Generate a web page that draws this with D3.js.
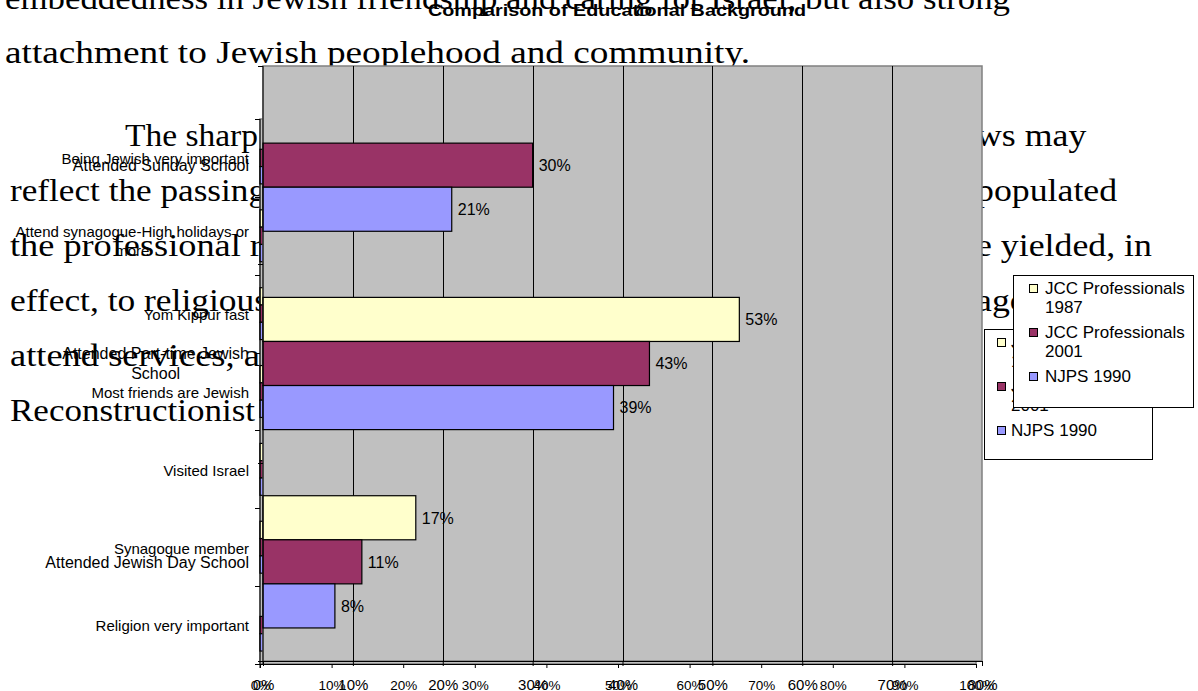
<!DOCTYPE html>
<html><head><meta charset="utf-8">
<script src="https://cdn.jsdelivr.net/npm/d3@7/dist/d3.min.js"></script>
<style>html,body{margin:0;padding:0;background:#fff;overflow:hidden}</style>
</head><body>
<svg id="chart" width="1198" height="691"></svg>
<script>
// ---------------- data ----------------
const seriesNames = ["JCC Professionals 1987", "JCC Professionals 2001", "NJPS 1990"];
const seriesColors = ["#FFFFCC", "#993366", "#9999FF"];

// Front chart: educational background
const eduTitle = "Comparison of Educational Background";
const eduCategories = ["Attended Sunday School", "Attended Part-time Jewish School", "Attended Jewish Day School"];
const edu1987 = [null, 53, 17];
const edu2001 = [30, 43, 11];
const eduNjps1990 = [21, 39, 8];
const eduTicks = [0, 10, 20, 30, 40, 50, 60, 70, 80];

// Chart underneath (mostly hidden): Jewish identity measures
const idCategories = ["Being Jewish very important", "Attend synagogue-High holidays or more", "Yom Kippur fast", "Most friends are Jewish", "Visited Israel", "Synagogue member", "Religion very important"];
const id1987 = [null, 62, 70, 52, 64, 58, null];
const id2001 = [78, 66, 74, 49, 68, 56, 38];
const idNjps1990 = [64, 59, 61, 42, 26, 41, 29];
const idTicks = [0, 10, 20, 30, 40, 50, 60, 70, 80, 90, 100];

// Document text behind the charts
const bodyLeft = ["embeddedness in Jewish friendship and caring for Israel, but also strong",
  "attachment to Jewish peoplehood and community.",
  "The sharp d", "reflect the passing", "the professional ra", "effect, to religious",
  "attend services, ar", "Reconstructionist"];
const bodyRight = [null, null, "ws may", "populated", "e yielded, in", "agogue", null, null];

// ---------------- helpers ----------------
const svg = d3.select("#chart");
const SANS = "'Liberation Sans', Arial, sans-serif";
const SERIF = "'Liberation Serif', 'Times New Roman', serif";
const measurer = svg.append("text").attr("x", -9999).attr("y", -9999);
function textWidth(str, size, family, weight) {
  measurer.attr("font-family", family).attr("font-size", size).attr("font-weight", weight || "normal").text(str);
  return measurer.node().getComputedTextLength();
}
function wrap(str, maxW, size, family) {
  const words = str.split(" "), lines = [];
  let cur = "";
  for (const w of words) {
    const t = cur ? cur + " " + w : w;
    if (cur && textWidth(t, size, family) > maxW) { lines.push(cur); cur = w; } else cur = t;
  }
  if (cur) lines.push(cur);
  return lines;
}

// ---------------- body text ----------------
const bodySize = 32;
const bodyScale = 745 / textWidth(bodyLeft[1], bodySize, SERIF);
const bodyBase = [9, 63, 146, 201, 256, 311, 366, 421];
const bodyX = [5, 5, 125, 10, 10, 10, 10, 10];
const bodyFit = [1005, 745, 158, 256, 268, 258, 262, 245];
const bodyG = svg.append("g").attr("font-family", SERIF).attr("font-size", bodySize).attr("fill", "#000");
bodyLeft.forEach((t, i) => {
  bodyG.append("text").attr("x", bodyX[i]).attr("y", bodyBase[i])
    .attr("textLength", bodyFit[i] || textWidth(t, bodySize, SERIF) * bodyScale)
    .attr("lengthAdjust", "spacingAndGlyphs").text(t);
});
bodyRight.forEach((t, i) => {
  if (!t) return;
  bodyG.append("text").attr("x", 976).attr("y", bodyBase[i])
    .attr("textLength", textWidth(t, bodySize, SERIF) * bodyScale * 0.96).attr("lengthAdjust", "spacingAndGlyphs").text(t);
});

// ---------------- generic bar chart ----------------
function drawChart(cfg) {
  const g = svg.append("g");
  const x = d3.scaleLinear().domain([0, d3.max(cfg.ticks)]).range([cfg.x0, cfg.x1]);
  const y = d3.scaleBand().domain(cfg.categories).range([cfg.y0, cfg.y1]);
  const s = d3.scaleBand().domain(seriesNames).range([y.bandwidth() / 6, y.bandwidth() * 5 / 6]);

  g.append("rect").attr("x", cfg.x0).attr("y", cfg.y0).attr("width", cfg.x1 - cfg.x0).attr("height", cfg.y1 - cfg.y0)
    .attr("fill", "#C0C0C0").attr("stroke", "#808080").attr("stroke-width", 1.5);

  if (cfg.grid) {
    g.selectAll(".grid").data(cfg.ticks.filter(t => t > 0 && t < d3.max(cfg.ticks))).join("line")
      .attr("x1", d => Math.round(x(d)) + 0.5).attr("x2", d => Math.round(x(d)) + 0.5)
      .attr("y1", cfg.y0).attr("y2", cfg.y1).attr("stroke", "#000").attr("stroke-width", 1);
  }

  const rows = [];
  cfg.categories.forEach((c, i) => cfg.values.forEach((arr, j) => {
    if (arr[i] != null) rows.push({ c, name: seriesNames[j], color: seriesColors[j], v: arr[i] });
  }));
  g.selectAll(".bar").data(rows).join("rect")
    .attr("x", x(0)).attr("y", d => y(d.c) + s(d.name))
    .attr("width", d => x(d.v) - x(0)).attr("height", s.bandwidth())
    .attr("fill", d => d.color).attr("stroke", "#000").attr("stroke-width", 1.2);

  if (cfg.dataLabels) {
    g.selectAll(".dl").data(rows).join("text")
      .attr("x", d => x(d.v) + 6).attr("y", d => y(d.c) + s(d.name) + s.bandwidth() / 2)
      .attr("dy", "0.36em").attr("font-family", SANS).attr("font-size", cfg.dlSize).attr("fill", "#000")
      .text(d => d.v + "%");
  }

  // category axis
  g.append("line").attr("x1", cfg.x0).attr("x2", cfg.x0).attr("y1", cfg.y0).attr("y2", cfg.y1 + 4).attr("stroke", "#000");
  const bounds = cfg.categories.map(c => y(c)).concat([cfg.y1]);
  g.selectAll(".yt").data(bounds).join("line")
    .attr("x1", cfg.x0 - 5).attr("x2", cfg.x0).attr("y1", d => Math.round(d) + 0.5).attr("y2", d => Math.round(d) + 0.5)
    .attr("stroke", "#000");
  cfg.categories.forEach(c => {
    const lines = wrap(c, cfg.wrapW, cfg.labelSize, SANS);
    const lh = cfg.labelSize * 1.25;
    const cy = y(c) + y.bandwidth() / 2 + cfg.labelDy + (lines.length > 1 ? cfg.multiDy : 0);
    const w = d3.max(lines, l => textWidth(l, cfg.labelSize, SANS));
    const t = g.append("text").attr("font-family", SANS).attr("font-size", cfg.labelSize).attr("fill", "#000")
      .attr("text-anchor", "middle");
    lines.forEach((l, k) => {
      t.append("tspan").attr("x", cfg.labelRight - w / 2)
        .attr("y", cy + (k - (lines.length - 1) / 2) * lh).attr("dy", "0.36em").text(l);
    });
  });

  // value axis
  const ax = g.append("g").attr("transform", `translate(0,${cfg.y1})`)
    .call(d3.axisBottom(x).tickValues(cfg.ticks).tickFormat(d => d + "%").tickSize(cfg.tickLen).tickSizeOuter(0));
  ax.select(".domain").attr("stroke", "#000");
  ax.selectAll(".tick line").attr("stroke", "#000");
  ax.selectAll("text").attr("font-family", SANS).attr("font-size", cfg.tickSize).attr("fill", "#000")
    .attr("y", 690 - cfg.y1).attr("dy", null);

  // legend
  const L = cfg.legend;
  const lg = g.append("g");
  lg.append("rect").attr("x", L.x + 0.5).attr("y", L.y + 0.5).attr("width", L.w).attr("height", L.h)
    .attr("fill", "#fff").attr("stroke", "#000").attr("stroke-width", 1);
  let cyL = L.y + 13;
  seriesNames.forEach((n, j) => {
    const lines = wrap(n, L.wrapW, L.size, SANS);
    lg.append("rect").attr("x", L.x + L.sw + 0.5).attr("y", cyL - 3.5).attr("width", 8).attr("height", 8)
      .attr("fill", seriesColors[j]).attr("stroke", "#000");
    const t = lg.append("text").attr("font-family", SANS).attr("font-size", L.size).attr("fill", "#000");
    lines.forEach((l, k) => t.append("tspan").attr("x", L.x + L.tx).attr("y", cyL + k * 19).attr("dy", "0.36em").text(l));
    cyL += lines.length * 19 + 6;
  });

  if (cfg.title) {
    g.append("text").attr("x", 617).attr("y", 16).attr("text-anchor", "middle")
      .attr("font-family", SANS).attr("font-weight", "bold").attr("font-size", cfg.titleSize).attr("fill", "#000")
      .attr("textLength", 378).attr("lengthAdjust", "spacingAndGlyphs")
      .text(cfg.title);
  }
}

// chart underneath
drawChart({
  categories: idCategories, values: [id1987, id2001, idNjps1990], ticks: idTicks,
  x0: 260, x1: 976, y0: 119, y1: 664, grid: false, dataLabels: false,
  labelSize: 15, wrapW: 250, labelRight: 249, labelDy: 1, multiDy: 4, tickSize: 13.5, tickLen: 4,
  legend: { x: 984, y: 329, w: 168, h: 130, size: 17, wrapW: 145, sw: 13, tx: 27 }
});
// chart in front
drawChart({
  categories: eduCategories, values: [edu1987, edu2001, eduNjps1990], ticks: eduTicks,
  x0: 263, x1: 982, y0: 66, y1: 661, grid: true, dataLabels: true, dlSize: 16,
  labelSize: 16, wrapW: 215, labelRight: 249, labelDy: 0, multiDy: 0, tickSize: 15, tickLen: 5,
  title: eduTitle, titleSize: 17,
  legend: { x: 1013, y: 275, w: 180, h: 132, size: 17, wrapW: 150, sw: 16, tx: 32 }
});
measurer.remove();
</script>
</body></html>
